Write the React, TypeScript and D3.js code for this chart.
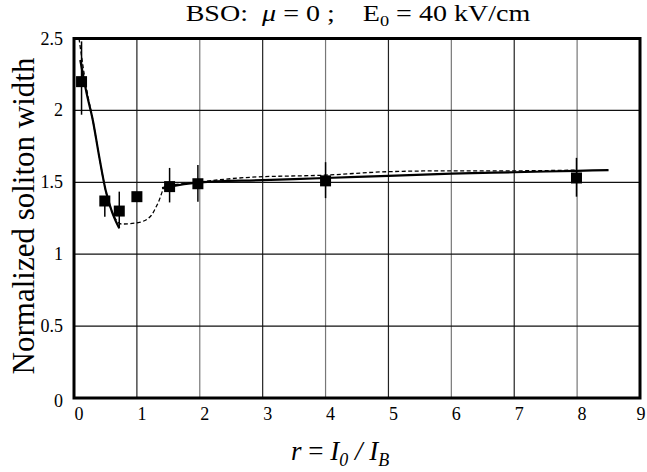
import React from "react";
import * as d3 from "d3";

const xTicks = [0, 1, 2, 3, 4, 5, 6, 7, 8, 9];
const yTicks = [0, 0.5, 1, 1.5, 2, 2.5];
const yTickLabels = ["0", "0.5", "1", "1.5", "2", "2.5"];

// measured points: x, y, error low, error high
const pointsX = [0.12, 0.49, 0.72, 1.0, 1.52, 1.97, 4.0, 7.99];
const pointsY = [2.2, 1.37, 1.3, 1.4, 1.47, 1.49, 1.51, 1.53];
const errLo = [1.97, 1.26, 1.18, 1.4, 1.36, 1.365, 1.39, 1.4];
const errHi = [2.48, 1.37, 1.435, 1.4, 1.6, 1.62, 1.64, 1.67];

// solid theory curve (two parts)
const solidAX = [0.1, 0.2, 0.3, 0.4, 0.5, 0.6, 0.72];
const solidAY = [2.35, 2.12, 1.93, 1.68, 1.45, 1.3, 1.18];
const solidBX = [1.4, 2, 3, 4, 5, 6, 7, 8, 8.5];
const solidBY = [1.46, 1.5, 1.515, 1.53, 1.545, 1.56, 1.57, 1.58, 1.585];

// dashed curve
const dashX = [0.08, 0.2, 0.3, 0.4, 0.5, 0.6, 0.76, 1.02, 1.21, 1.34, 1.45, 1.96, 2.8, 4, 5, 6, 7, 8];
const dashY = [2.5, 2.15, 1.93, 1.68, 1.45, 1.3, 1.21, 1.22, 1.26, 1.36, 1.47, 1.5, 1.535, 1.55, 1.574, 1.58, 1.58, 1.585];

const W = 647;
const H = 472;
const L = 74;
const R = 640;
const T = 38.5;
const B = 398;

export default function App() {
  const x = d3.scaleLinear().domain([0, 9]).range([L, R]);
  const y = d3.scaleLinear().domain([0, 2.5]).range([B, T]);
  const line = d3
    .line<[number, number]>()
    .x((d) => x(d[0]))
    .y((d) => y(d[1]))
    .curve(d3.curveMonotoneX);
  const zip = (a: number[], b: number[]) => a.map((v, i) => [v, b[i]] as [number, number]);
  const serif = "Liberation Serif, Times New Roman, serif";
  return (
    <svg width={W} height={H} style={{ position: "absolute", left: 0, top: 0, background: "#fff" }} fontFamily={serif}>
      {/* grid */}
      {xTicks.slice(1, -1).map((t) => (
        <line key={"gx" + t} x1={x(t)} x2={x(t)} y1={T} y2={B} stroke={t % 2 === 0 ? "#777" : "#222"} strokeWidth={1.2} />
      ))}
      {yTicks.slice(1, -1).map((t) => (
        <line key={"gy" + t} x1={L} x2={R} y1={y(t)} y2={y(t)} stroke="#111" strokeWidth={1.3} />
      ))}
      {/* curves */}
      <path d={line(zip(dashX, dashY)) || ""} fill="none" stroke="#000" strokeWidth={1.3} strokeDasharray="4,2.5" />
      <path d={line(zip(solidAX, solidAY)) || ""} fill="none" stroke="#000" strokeWidth={2.2} />
      <path d={line(zip(solidBX, solidBY)) || ""} fill="none" stroke="#000" strokeWidth={2.2} />
      {/* error bars */}
      {pointsX.map((px, i) => (
        <line key={"e" + i} x1={x(px)} x2={x(px)} y1={y(errLo[i])} y2={y(errHi[i])} stroke="#000" strokeWidth={1.5} />
      ))}
      {/* markers */}
      {pointsX.map((px, i) => (
        <rect key={"m" + i} x={x(px) - 5.5} y={y(pointsY[i]) - 5.5} width={11} height={11} fill="#000" />
      ))}
      {/* frame */}
      <rect x={L} y={T} width={R - L} height={B - T} fill="none" stroke="#000" strokeWidth={3} />
      {/* y tick labels */}
      {yTicks.map((t, i) => (
        <text key={"yl" + t} x={63} y={y(t) + 6 + (t === 0 ? 3 : 0)} textAnchor="end" fontSize={18}>
          {yTickLabels[i]}
        </text>
      ))}
      {/* x tick labels */}
      {xTicks.map((t) => (
        <text key={"xl" + t} x={Math.min(x(t) + 5, 641)} y={420} textAnchor="middle" fontSize={18}>
          {t}
        </text>
      ))}
      {/* title */}
      <g transform="translate(358,21) scale(1.22,1)">
        <text x={0} y={0} textAnchor="middle" fontSize={23} style={{ whiteSpace: "pre" }}>
          <tspan>{"BSO:  "}</tspan>
          <tspan fontStyle="italic">μ</tspan>
          <tspan>{" = 0 ;    E"}</tspan>
          <tspan fontSize={15} dy={5}>0</tspan>
          <tspan dy={-5}>{" = 40 kV/cm"}</tspan>
        </text>
      </g>
      {/* x axis title */}
      <text x={340} y={460} textAnchor="middle" fontSize={27} fontStyle="italic" style={{ whiteSpace: "pre" }}>
        <tspan>r</tspan>
        <tspan fontStyle="normal">{" = "}</tspan>
        <tspan>I</tspan>
        <tspan fontSize={18} dy={6}>0</tspan>
        <tspan dy={-6}>{" / I"}</tspan>
        <tspan fontSize={18} dy={6}>B</tspan>
      </text>
      {/* y axis title */}
      <text transform={`translate(34,216) rotate(-90)`} textAnchor="middle" fontSize={31}>
        Normalized soliton width
      </text>
    </svg>
  );
}
